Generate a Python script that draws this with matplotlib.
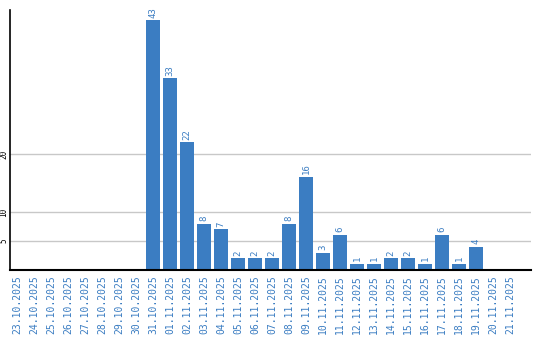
import matplotlib
matplotlib.use("Agg")
import matplotlib.pyplot as plt

dates = ["23.10.2025", "24.10.2025", "25.10.2025", "26.10.2025", "27.10.2025",
         "28.10.2025", "29.10.2025", "30.10.2025", "31.10.2025", "01.11.2025",
         "02.11.2025", "03.11.2025", "04.11.2025", "05.11.2025", "06.11.2025",
         "07.11.2025", "08.11.2025", "09.11.2025", "10.11.2025", "11.11.2025",
         "12.11.2025", "13.11.2025", "14.11.2025", "15.11.2025", "16.11.2025",
         "17.11.2025", "18.11.2025", "19.11.2025", "20.11.2025", "21.11.2025"]
values = [0, 0, 0, 0, 0, 0, 0, 0, 43, 33, 22, 8, 7, 2, 2, 2, 8, 16, 3, 6,
          1, 1, 2, 2, 1, 6, 1, 4, 0, 0]
yticks = [5, 10, 20]

blue = "#3b7dc2"
mono = "DejaVu Sans Mono"

fig = plt.figure(figsize=(5.4, 3.4), dpi=100)
ax = fig.add_axes([10/540, 70/340, 520.7/540, 260/340])

x = list(range(len(dates)))
ax.bar(x, values, width=14/17, color=blue, zorder=2)
for xi, v in zip(x, values):
    if v > 0:
        ax.annotate(str(v), (xi, v), xytext=(0, 2), textcoords="offset points",
                    rotation=90, ha="center", va="bottom", color=blue,
                    fontsize=6.5, family=mono, annotation_clip=False)

ax.set_xlim(-0.41, 30.2)
ax.set_ylim(0, 44.8)
ax.set_yticks(yticks)
ax.set_yticklabels([str(t) for t in yticks], rotation=90, va="center",
                   ha="center", fontsize=5.5, family=mono, color="black")
ax.set_xticks(x)
ax.set_xticklabels(dates, rotation=90, fontsize=7, family=mono, color=blue,
                   va="top", ha="center")
ax.tick_params(axis="both", length=0)
ax.tick_params(axis="x", pad=4)
ax.tick_params(axis="y", pad=4.5)
ax.grid(axis="y", color="#c8c8c8", linewidth=1, zorder=0)
for s in ["top", "right"]:
    ax.spines[s].set_visible(False)
ax.spines["left"].set_linewidth(1.2)
ax.spines["bottom"].set_linewidth(1.5)

fig.savefig("out.png", dpi=100)
